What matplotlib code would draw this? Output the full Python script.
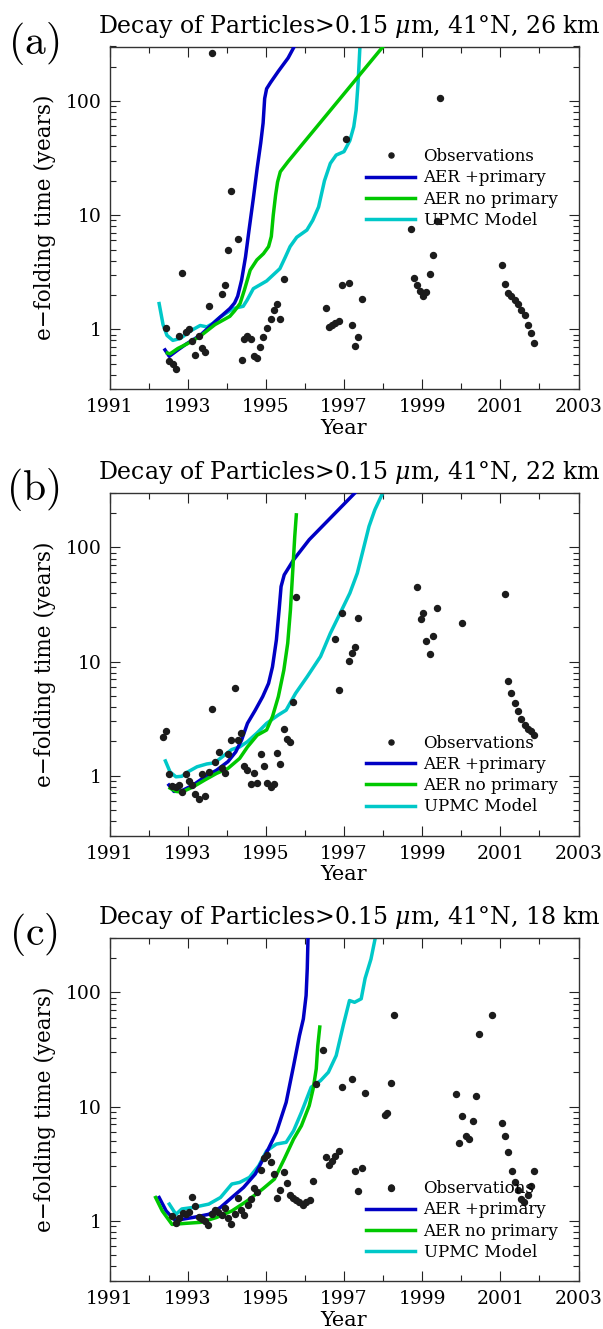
import matplotlib
matplotlib.use("Agg")
import matplotlib.pyplot as plt

plt.rcParams["font.family"] = ["DejaVu Serif"]
plt.rcParams["mathtext.fontset"] = "dejavuserif"

# ---------------- panel (a): 26 km ----------------
obs_a_year = [1992.45, 1992.53, 1992.62, 1992.70, 1992.79, 1992.86, 1992.96, 1993.04, 1993.11, 1993.20,
              1993.28, 1993.36, 1993.45, 1993.54, 1993.62, 1993.88, 1993.95, 1994.03, 1994.11, 1994.28,
              1994.38, 1994.45, 1994.53, 1994.61, 1994.70, 1994.78, 1994.86, 1994.94, 1995.03, 1995.12,
              1995.20, 1995.28, 1995.37, 1995.46, 1996.53, 1996.61, 1996.70, 1996.78, 1996.87, 1996.95,
              1997.04, 1997.12, 1997.20, 1997.28, 1997.37, 1997.45, 1998.71, 1998.79, 1998.88, 1998.95,
              1999.03, 1999.11, 1999.20, 1999.28, 1999.37, 1999.45, 2001.03, 2001.12, 2001.20, 2001.28,
              2001.37, 2001.45, 2001.53, 2001.62, 2001.71, 2001.79, 2001.87]
obs_a_tau = [1.03, 0.53, 0.50, 0.45, 0.87, 3.12, 0.95, 1.01, 0.79, 0.60,
             0.87, 0.68, 0.63, 1.61, 265, 2.05, 2.46, 5.0, 16.3, 6.15,
             0.54, 0.83, 0.87, 0.82, 0.58, 0.56, 0.70, 0.86, 1.03, 1.24,
             1.49, 1.65, 1.24, 2.76, 1.53, 1.05, 1.08, 1.14, 1.18, 2.42,
             46, 2.52, 1.10, 0.72, 0.85, 1.83, 7.54, 2.80, 2.43, 2.17,
             1.95, 2.11, 3.04, 4.46, 8.86, 107, 3.67, 2.50, 2.08, 1.95,
             1.80, 1.65, 1.49, 1.33, 1.10, 0.92, 0.76]

aerp_a_year = [1992.42, 1992.53, 1992.75, 1992.98, 1993.32, 1993.74, 1994.08, 1994.20, 1994.28, 1994.38,
               1994.48, 1994.57, 1994.68, 1994.78, 1994.87, 1994.93, 1994.97, 1995.02, 1995.12, 1995.32,
               1995.57, 1995.75]
aerp_a_tau = [0.66, 0.58, 0.66, 0.75, 0.885, 1.2, 1.52, 1.70, 1.95, 2.7,
              4.3, 7.4, 14, 26, 43, 64, 105, 128, 145, 182,
              238, 310]

aern_a_year = [1992.48, 1992.55, 1992.75, 1993.0, 1993.3, 1993.7, 1994.08, 1994.2, 1994.34, 1994.45,
               1994.60, 1994.77, 1994.94, 1995.07, 1995.14, 1995.19, 1995.25, 1995.30, 1995.37, 1995.57,
               1998.0]
aern_a_tau = [0.62, 0.61, 0.68, 0.75, 0.86, 1.1, 1.3, 1.45, 1.68, 2.2,
              3.3, 4.05, 4.6, 5.3, 6.5, 10.0, 15, 19.5, 24, 29.5,
              300]

upmc_a_year = [1992.27, 1992.37, 1992.47, 1992.62, 1992.81, 1993.10, 1993.32, 1993.49, 1993.65, 1993.83,
               1994.17, 1994.42, 1994.52, 1994.68, 1995.02, 1995.36, 1995.50, 1995.62, 1995.79, 1996.05,
               1996.20, 1996.35, 1996.50, 1996.65, 1996.80, 1997.0, 1997.15, 1997.25, 1997.31, 1997.36,
               1997.41]
upmc_a_tau = [1.68, 1.1, 0.885, 0.80, 0.83, 0.98, 1.08, 1.05, 1.13, 1.28,
              1.52, 1.59, 1.8, 2.27, 2.65, 3.4, 4.3, 5.3, 6.4, 7.4,
              9.0, 11.8, 20, 28.4, 33.6, 36, 45, 59.5, 83, 143,
              310]

# ---------------- panel (b): 22 km ----------------
obs_b_year = [1992.36, 1992.45, 1992.53, 1992.61, 1992.69, 1992.77, 1992.86, 1992.95, 1993.04, 1993.11,
              1993.20, 1993.28, 1993.37, 1993.45, 1993.54, 1993.62, 1993.70, 1993.79, 1993.87, 1993.95,
              1994.03, 1994.12, 1994.20, 1994.28, 1994.37, 1994.45, 1994.53, 1994.62, 1994.71, 1994.78,
              1994.87, 1994.95, 1995.04, 1995.12, 1995.20, 1995.28, 1995.37, 1995.46, 1995.54, 1995.62,
              1995.70, 1995.78, 1996.78, 1996.87, 1996.95, 1997.13, 1997.21, 1997.28, 1997.37, 1998.87,
              1998.96, 1999.03, 1999.11, 1999.20, 1999.28, 1999.37, 2000.03, 2001.11, 2001.20, 2001.28,
              2001.37, 2001.45, 2001.53, 2001.62, 2001.70, 2001.78, 2001.87]
obs_b_tau = [2.20, 2.45, 1.04, 0.82, 0.80, 0.83, 0.72, 1.03, 0.90, 0.83,
             0.69, 0.63, 1.03, 0.66, 1.08, 3.82, 1.33, 1.61, 1.18, 1.05,
             1.55, 2.06, 5.9, 2.06, 2.38, 1.22, 1.12, 0.845, 1.06, 0.87,
             1.54, 1.22, 0.87, 0.80, 0.845, 1.57, 1.27, 2.55, 2.08, 1.96,
             4.46, 36.7, 15.9, 5.64, 26.9, 10.1, 11.8, 13.5, 24.1, 45.5,
             23.7, 26.9, 15.2, 11.6, 16.8, 29.6, 21.7, 39.5, 6.8, 5.35,
             4.37, 3.69, 3.14, 2.78, 2.57, 2.45, 2.26]

aerp_b_year = [1992.52, 1992.65, 1992.85, 1993.14, 1993.44, 1993.74, 1994.03, 1994.23, 1994.38, 1994.53,
               1994.73, 1994.92, 1995.07, 1995.17, 1995.27, 1995.34, 1995.39, 1995.47, 1995.71, 1996.11,
               1997.29]
aerp_b_tau = [0.83, 0.73, 0.74, 0.83, 0.98, 1.12, 1.33, 1.62, 2.06, 2.88,
              3.76, 4.94, 6.45, 9.0, 15.5, 28.5, 45.5, 57.5, 78, 117,
              303]

aern_b_year = [1992.55, 1992.7, 1992.85, 1993.14, 1993.44, 1993.74, 1994.03, 1994.33, 1994.53, 1994.78,
               1995.02, 1995.17, 1995.32, 1995.46, 1995.56, 1995.63, 1995.69, 1995.74, 1995.78]
aern_b_tau = [0.78, 0.73, 0.72, 0.80, 0.92, 1.05, 1.16, 1.42, 1.79, 2.27,
              2.52, 3.30, 4.94, 8.4, 14.5, 28.5, 63.6, 125, 193]

upmc_b_year = [1992.43, 1992.55, 1992.70, 1992.85, 1993.0, 1993.24, 1993.49, 1993.69, 1993.89, 1994.13,
               1994.33, 1994.53, 1994.78, 1995.02, 1995.32, 1995.52, 1995.76, 1996.06, 1996.40, 1996.65,
               1996.90, 1997.15, 1997.34, 1997.49, 1997.64, 1997.79, 1997.99]
upmc_b_tau = [1.35, 1.08, 0.98, 0.99, 1.08, 1.2, 1.27, 1.3, 1.47, 1.70,
              1.79, 1.99, 2.38, 2.88, 3.41, 3.76, 5.27, 7.4, 11.1, 17.7,
              26.5, 39.8, 59.5, 95.3, 153, 214, 300]

# ---------------- panel (c): 18 km ----------------
obs_c_year = [1992.61, 1992.70, 1992.79, 1992.87, 1992.95,
              1993.03, 1993.11, 1993.20, 1993.28, 1993.36, 1993.44, 1993.53, 1993.62, 1993.70, 1993.78,
              1993.87, 1993.95,
              1994.03, 1994.12, 1994.20, 1994.28, 1994.37, 1994.45, 1994.54, 1994.63, 1994.71, 1994.78,
              1994.87, 1994.95,
              1995.03, 1995.12, 1995.20, 1995.28, 1995.37, 1995.46, 1995.54, 1995.62, 1995.70, 1995.77,
              1995.86, 1995.94,
              1996.03, 1996.12, 1996.21, 1996.29, 1996.45, 1996.54, 1996.62, 1996.70, 1996.78, 1996.87,
              1996.95,
              1997.20, 1997.29, 1997.37, 1997.45, 1997.53,
              1998.04, 1998.11, 1998.20, 1998.20, 1998.28,
              1999.87, 1999.95,
              2000.03, 2000.12, 2000.20, 2000.29, 2000.37, 2000.46, 2000.78,
              2001.04, 2001.12, 2001.20, 2001.29, 2001.37, 2001.45, 2001.53, 2001.61, 2001.70, 2001.78,
              2001.87]
obs_c_tau = [1.11, 0.95, 1.05, 1.18, 1.14,
             1.20, 1.63, 1.35, 1.07, 1.03, 1.0, 0.92, 1.14, 1.25, 1.20,
             1.12, 1.29,
             1.05, 0.93, 1.14, 1.57, 1.25, 1.12, 1.37, 1.55, 1.95, 1.80,
             2.80, 3.52,
             3.76, 3.29, 2.55, 1.60, 1.87, 2.69, 2.14, 1.68, 1.58, 1.51,
             1.45, 1.37,
             1.45, 1.51, 2.21, 15.9, 31.6, 3.59, 3.08, 3.36, 3.66, 4.06,
             14.9,
             17.3, 2.71, 1.81, 2.88, 13.2,
             8.45, 8.86, 16.2, 1.95, 63.7,
             12.9, 4.83,
             8.34, 5.5, 5.2, 7.5, 12.5, 43.4, 62.9,
             7.2, 5.5, 3.98, 2.73, 2.17, 1.85, 1.55, 1.47, 1.68, 2.03,
             2.71]

aerp_c_year = [1992.27, 1992.45, 1992.65, 1992.85, 1993.14, 1993.54, 1993.84, 1994.13, 1994.43, 1994.73,
               1995.02, 1995.27, 1995.52, 1995.71, 1995.86, 1995.96, 1996.03, 1996.06, 1996.08]
aerp_c_tau = [1.60, 1.22, 1.03, 1.03, 1.07, 1.14, 1.31, 1.60, 1.96, 2.57,
              3.97, 5.95, 10.9, 22.8, 41.8, 58.7, 94, 162, 310]

aern_c_year = [1992.18, 1992.35, 1992.60, 1992.95, 1993.34, 1993.74, 1994.13, 1994.53, 1994.92, 1995.22,
               1995.47, 1995.71, 1995.91, 1996.11, 1996.21, 1996.29, 1996.33, 1996.38]
aern_c_tau = [1.60, 1.22, 0.93, 0.95, 0.97, 1.07, 1.22, 1.50, 1.90, 2.32,
              3.47, 5.2, 6.8, 10.2, 14.3, 21.4, 34.3, 49.8]

upmc_c_year = [1992.53, 1992.70, 1992.85, 1993.14, 1993.54, 1993.84, 1994.13, 1994.33, 1994.58, 1994.82,
               1995.02, 1995.27, 1995.52, 1995.71, 1995.91, 1996.16, 1996.40, 1996.60, 1996.80, 1996.99,
               1997.14, 1997.27, 1997.44, 1997.54, 1997.69, 1997.81]
upmc_c_tau = [1.40, 1.14, 1.27, 1.31, 1.40, 1.60, 2.1, 2.17, 2.4, 3.04,
              4.1, 4.70, 4.87, 6.15, 8.9, 14.8, 16.9, 20, 28, 53,
              85, 82, 88, 133, 196, 312]

panel_tags = ["(a)", "(b)", "(c)"]
altitudes = ["26", "22", "18"]
series_labels = ["Observations", "AER +primary", "AER no primary", "UPMC Model"]

year_ticks = list(range(1991, 2004, 2))
year_minor = list(range(1992, 2003, 2))
tau_major = [1, 10, 100]
tau_minor = [0.3, 0.4, 0.5, 0.6, 0.7, 0.8, 0.9, 2, 3, 4, 5, 6, 7, 8, 9,
             20, 30, 40, 50, 60, 70, 80, 90, 200, 300]

C_AERP = "#0000c4"
C_AERN = "#00c800"
C_UPMC = "#00c8c8"
C_OBS = "#1c1c1c"

panels = [
    (obs_a_year, obs_a_tau, aerp_a_year, aerp_a_tau, aern_a_year, aern_a_tau, upmc_a_year, upmc_a_tau),
    (obs_b_year, obs_b_tau, aerp_b_year, aerp_b_tau, aern_b_year, aern_b_tau, upmc_b_year, upmc_b_tau),
    (obs_c_year, obs_c_tau, aerp_c_year, aerp_c_tau, aern_c_year, aern_c_tau, upmc_c_year, upmc_c_tau),
]

W, H = 603, 1329
fig = plt.figure(figsize=(W / 100, H / 100), dpi=100)

ax_left, ax_w = 109.5, 469.0
ax_tops = [46.5, 493.0, 938.0]
ax_h = 342.5
legend_tops = [0.703, 0.2935, 0.2926]

for i, (ox, oy, px, py, nx, ny, ux, uy) in enumerate(panels):
    top = ax_tops[i]
    ax = fig.add_axes([ax_left / W, 1 - (top + ax_h) / H, ax_w / W, ax_h / H])
    ax.set_yscale("log")

    h_obs, = ax.plot(ox, oy, linestyle="none", marker="o", markersize=4.3,
                     color=C_OBS, label=series_labels[0], zorder=4)
    h_p, = ax.plot(px, py, color=C_AERP, lw=2.5, label=series_labels[1], zorder=3)
    h_n, = ax.plot(nx, ny, color=C_AERN, lw=2.5, label=series_labels[2], zorder=3)
    h_u, = ax.plot(ux, uy, color=C_UPMC, lw=2.5, label=series_labels[3], zorder=2)

    ax.set_xlim(1991, 2003)
    ax.set_ylim(0.3, 300)
    ax.set_xticks(year_ticks)
    ax.set_xticks(year_minor, minor=True)
    ax.set_xticklabels([str(y) for y in year_ticks])
    ax.set_yticks(tau_major)
    ax.set_yticks(tau_minor, minor=True)
    ax.set_yticklabels([str(v) for v in tau_major])
    ax.yaxis.set_minor_formatter(matplotlib.ticker.NullFormatter())
    ax.tick_params(which="both", direction="in", top=True, right=True, width=0.8,
                   labelsize=13.5, color="#222222")
    ax.tick_params(which="major", length=7.5)
    ax.tick_params(which="minor", length=4.3)
    ax.tick_params(axis="x", which="major", pad=6.5)
    ax.tick_params(axis="y", which="major", pad=5.5)
    for s in ax.spines.values():
        s.set_linewidth(1.0)
        s.set_color("#333333")

    ax.set_xlabel("Year", fontsize=15)
    ax.xaxis.set_label_coords(0.5, -30 / ax_h)
    ax.set_ylabel("e\u2212folding time (years)", fontsize=15.5, va="center")
    ax.yaxis.set_label_coords(-65 / ax_w, 0.5)

    ax.annotate("Decay of Particles>0.15 $\\mu$m, 41\u00b0N, %s km" % altitudes[i],
                xy=(0.5 + 5 / ax_w, 1.0), xycoords="axes fraction",
                xytext=(0, 10), textcoords="offset points",
                ha="center", va="baseline", fontsize=17)
    ax.annotate("$\\mathrm{%s}$" % panel_tags[i], xy=(0, 1), xycoords="axes fraction",
                xytext=(-55, 2.5), textcoords="offset points",
                ha="center", va="center", fontsize=30, math_fontfamily="cm")

    ax.legend(handles=[h_obs, h_p, h_n, h_u], loc="upper left",
              bbox_to_anchor=(0.547, legend_tops[i]), frameon=False,
              fontsize=12, handlelength=2.95, handletextpad=0.5,
              labelspacing=0.25, borderpad=0, borderaxespad=0, numpoints=1,
              markerscale=0.85)

fig.savefig("out.png", dpi=100)
